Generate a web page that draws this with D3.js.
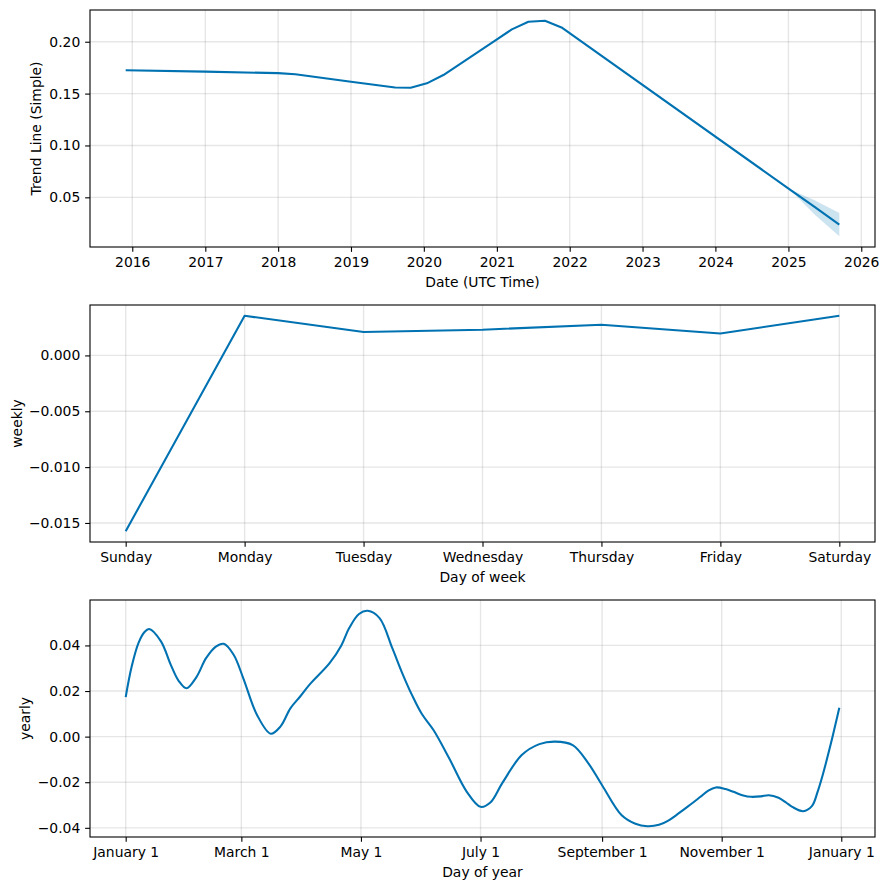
<!DOCTYPE html>
<html>
<head>
<meta charset="utf-8">
<script src="https://cdn.jsdelivr.net/npm/d3@7"></script>
<style>
body{margin:0;background:#fff;}
text{font-family:"DejaVu Sans",sans-serif;}
</style>
</head>
<body>
<svg id="chart" width="888" height="890"></svg>
<script>
// ---------- DATA ----------
const trendDates = ["2015-11-29","2017-01-01","2018-01-01","2018-03-28","2019-01-01","2019-08-10","2019-10-27","2020-01-16","2020-04-08","2020-12-23","2021-03-17","2021-06-08","2021-08-30","2021-11-21","2025-01-07","2025-05-12","2025-09-13"];
const trendValues = [0.1725,0.1712,0.1697,0.1687,0.1615,0.1558,0.1557,0.1599,0.1679,0.2010,0.2119,0.2192,0.2202,0.2138,0.0577,0.0407,0.0237];
const bandDates = ["2025-01-07","2025-05-12","2025-09-13"];
const bandUpper = [0.0577,0.0471,0.0350];
const bandLower = [0.0577,0.0334,0.0125];
const trendYTicks = [0.05,0.10,0.15,0.20];

const weekDays = ["Sunday","Monday","Tuesday","Wednesday","Thursday","Friday","Saturday"];
const weeklyValues = [-0.01574,0.00355,0.00209,0.00230,0.00275,0.00197,0.00355];
const weeklyYTicks = [-0.015,-0.010,-0.005,0.000];

const yearlyDays = [0,3,6.5,9.5,12,18,23,27,31,36,41,46,50,55,60,67,74,79,84,89,94,104,110,114,119,123.5,129.5,136,141,146,151,157,165,174,181,186,192,202,211,219,228,236,243,253,260,266,272,277,282,287,293,297,301,306,310,315,319,324,328,333,337,340,345.5,350,353,355.5,359.5,364];
const yearlyValues = [0.0173,0.0305,0.0410,0.0458,0.0472,0.0418,0.0315,0.0245,0.0212,0.0260,0.0344,0.0395,0.0407,0.0360,0.0256,0.0095,0.0013,0.0045,0.0124,0.0176,0.0230,0.0322,0.0400,0.0476,0.0538,0.0552,0.0520,0.0388,0.0280,0.0183,0.0100,0.0029,-0.0095,-0.0242,-0.0308,-0.0289,-0.0205,-0.0081,-0.0033,-0.0022,-0.0037,-0.0117,-0.0213,-0.0345,-0.0382,-0.0393,-0.0387,-0.0367,-0.0337,-0.0305,-0.0265,-0.0238,-0.0223,-0.0230,-0.0242,-0.0258,-0.0264,-0.0262,-0.0257,-0.0268,-0.0290,-0.0308,-0.0327,-0.0305,-0.0240,-0.0169,-0.0037,0.0127];
const yearlyTickDays = [0,59,120,181,243,304,365];
const yearlyTickLabels = ["January 1","March 1","May 1","July 1","September 1","November 1","January 1"];
const yearlyYTicks = [-0.04,-0.02,0.00,0.02,0.04];

// ---------- STYLE / LAYOUT ----------
const BLUE = "#0072B2";
const FS = 13.9;
const TICK = 4.86;
const svg = d3.select("#chart");
const L = 90, R = 875;
const panels = [{top:10,bottom:247},{top:305,bottom:542},{top:600,bottom:837}];

function pad(ext){ const r = ext[1]-ext[0]; return [ext[0]-0.05*r, ext[1]+0.05*r]; }

function drawGrid(g, p, x, y, xTicks, yTicks){
  g.append("g").selectAll("line").data(xTicks).join("line")
    .attr("x1", d=>x(d)).attr("x2", d=>x(d)).attr("y1", p.top).attr("y2", p.bottom)
    .attr("stroke","#808080").attr("stroke-opacity",0.2).attr("stroke-width",1.39);
  g.append("g").selectAll("line").data(yTicks).join("line")
    .attr("y1", d=>y(d)).attr("y2", d=>y(d)).attr("x1", L).attr("x2", R)
    .attr("stroke","#808080").attr("stroke-opacity",0.2).attr("stroke-width",1.39);
}
function drawAxes(g, p, x, y, xTicks, xFormat, yTicks, yFormat, xlabel, ylabel, ylabelX){
  const xa = g.append("g").attr("transform",`translate(0,${p.bottom})`)
    .call(d3.axisBottom(x).tickValues(xTicks).tickFormat(xFormat).tickSize(TICK).tickPadding(TICK).tickSizeOuter(0));
  const ya = g.append("g").attr("transform",`translate(${L},0)`)
    .call(d3.axisLeft(y).tickValues(yTicks).tickFormat(yFormat).tickSize(TICK).tickPadding(TICK).tickSizeOuter(0));
  [xa,ya].forEach(a=>{
    a.select(".domain").remove();
    a.selectAll("line").attr("stroke","#000").attr("stroke-width",1.1);
    a.selectAll("text").attr("font-size",FS).attr("fill","#000").attr("font-family","DejaVu Sans");
  });
  g.append("rect").attr("x",L).attr("y",p.top).attr("width",R-L).attr("height",p.bottom-p.top)
    .attr("fill","none").attr("stroke","#000").attr("stroke-width",1.1);
  g.append("text").attr("x",(L+R)/2).attr("y",p.bottom+35).attr("dy","0.35em")
    .attr("text-anchor","middle").attr("font-size",FS).text(xlabel);
  g.append("text").attr("transform",`translate(${ylabelX},${(p.top+p.bottom)/2}) rotate(-90)`)
    .attr("dy","0.35em").attr("text-anchor","middle").attr("font-size",FS).text(ylabel);
}

// ---------- PANEL 1: trend ----------
{
  const p = panels[0];
  const parse = d3.utcParse("%Y-%m-%d");
  const tData = trendDates.map((d,i)=>({date:parse(d), v:trendValues[i]}));
  const bData = bandDates.map((d,i)=>({date:parse(d), lo:bandLower[i], hi:bandUpper[i]}));
  const xd = pad(d3.extent(tData, d=>d.date.getTime()));
  const x = d3.scaleUtc().domain([new Date(xd[0]), new Date(xd[1])]).range([L,R]);
  const yd = pad([d3.min([...tData.map(d=>d.v), ...bData.map(d=>d.lo)]), d3.max([...tData.map(d=>d.v), ...bData.map(d=>d.hi)])]);
  const y = d3.scaleLinear().domain(yd).range([p.bottom,p.top]);
  const xTicks = x.ticks(d3.utcYear.every(1));
  const g = svg.append("g");
  drawGrid(g,p,x,y,xTicks,trendYTicks);
  g.append("path").datum(bData)
    .attr("d", d3.area().x(d=>x(d.date)).y0(d=>y(d.lo)).y1(d=>y(d.hi)))
    .attr("fill",BLUE).attr("fill-opacity",0.2);
  g.append("path").datum(tData)
    .attr("d", d3.line().x(d=>x(d.date)).y(d=>y(d.v)))
    .attr("fill","none").attr("stroke",BLUE).attr("stroke-width",2.08).attr("stroke-linejoin","round");
  drawAxes(g,p,x,y,xTicks,d3.utcFormat("%Y"),trendYTicks,d3.format(".2f"),"Date (UTC Time)","Trend Line (Simple)",36);
}

// ---------- PANEL 2: weekly ----------
{
  const p = panels[1];
  const idx = weekDays.map((d,i)=>i);
  const x = d3.scaleLinear().domain(pad([0,weekDays.length-1])).range([L,R]);
  const y = d3.scaleLinear().domain(pad(d3.extent(weeklyValues))).range([p.bottom,p.top]);
  const g = svg.append("g");
  drawGrid(g,p,x,y,idx,weeklyYTicks);
  g.append("path").datum(weeklyValues)
    .attr("d", d3.line().x((d,i)=>x(i)).y(d=>y(d)))
    .attr("fill","none").attr("stroke",BLUE).attr("stroke-width",2.08).attr("stroke-linejoin","round");
  drawAxes(g,p,x,y,idx,i=>weekDays[i],weeklyYTicks,d3.format(".3f"),"Day of week","weekly",17);
}

// ---------- PANEL 3: yearly ----------
{
  const p = panels[2];
  const x = d3.scaleLinear().domain(pad(d3.extent(yearlyDays))).range([L,R]);
  const y = d3.scaleLinear().domain(pad(d3.extent(yearlyValues))).range([p.bottom,p.top]);
  const g = svg.append("g");
  drawGrid(g,p,x,y,yearlyTickDays,yearlyYTicks);
  const yd = yearlyDays.map((d,i)=>({d, v:yearlyValues[i]}));
  g.append("path").datum(yd)
    .attr("d", d3.line().curve(d3.curveCatmullRom.alpha(0.5)).x(d=>x(d.d)).y(d=>y(d.v)))
    .attr("fill","none").attr("stroke",BLUE).attr("stroke-width",2.08).attr("stroke-linejoin","round");
  drawAxes(g,p,x,y,yearlyTickDays,(d,i)=>yearlyTickLabels[i],yearlyYTicks,d3.format(".2f"),"Day of year","yearly",25);
}
</script>
</body>
</html>
